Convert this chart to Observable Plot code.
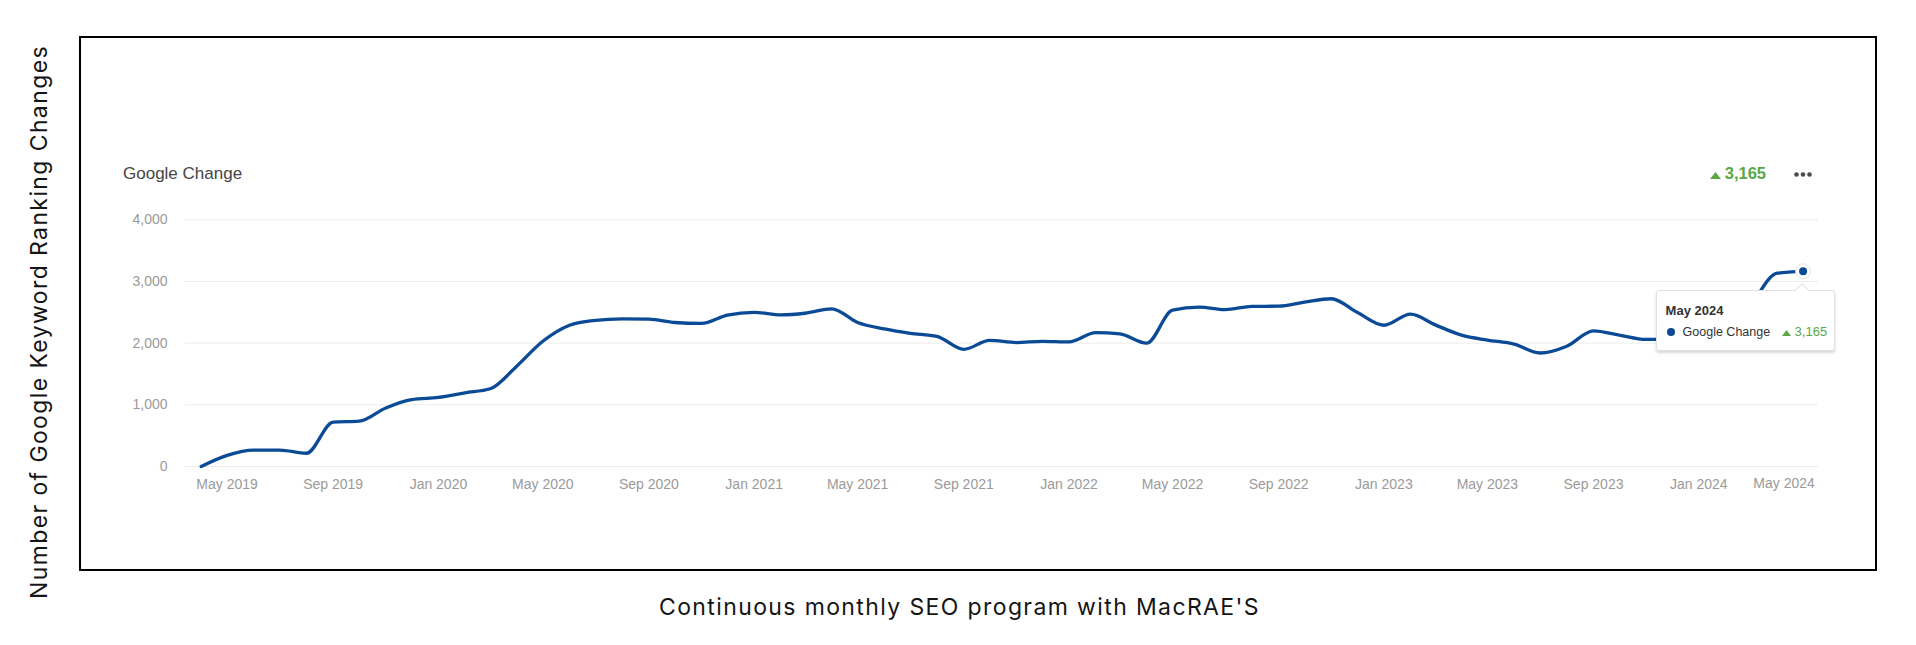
<!DOCTYPE html>
<html>
<head>
<meta charset="utf-8">
<script src="https://cdn.jsdelivr.net/npm/d3@7"></script>
<script src="https://cdn.jsdelivr.net/npm/@observablehq/plot@0.6"></script>
<style>
  html, body { margin: 0; padding: 0; background: #fff; }
  #page { position: relative; width: 1916px; height: 645px; overflow: hidden; font-family: "Liberation Sans", Arial, sans-serif; }
  #frame { position: absolute; left: 79px; top: 36px; width: 1794px; height: 531px; border: 2px solid #000; }
  #chart { position: absolute; left: 0; top: 0; }
  #chart svg { display: block; }
  .outer-text { position: absolute; white-space: nowrap; font-family: Inter, "Open Sans", sans-serif; font-size: 23px; line-height: 23px; color: #151515; }
  #ytitle { transform-origin: 0 0; }
  #head-title { position: absolute; left: 123px; top: 165px; font-size: 17px; line-height: 17px; color: #454545; white-space: nowrap; }
  #head-val { position: absolute; top: 165px; font-size: 16.5px; line-height: 17px; font-weight: bold; color: #58a846; white-space: nowrap; }
  #head-val svg, .tt-val svg { vertical-align: baseline; }
  #head-menu { position: absolute; top: 171.5px; height: 5px; }
  #tip { position: absolute; background: #fff; border: 1px solid #e2e2e2; border-radius: 3px; box-shadow: 0 2px 3px rgba(0,0,0,0.16); box-sizing: border-box; }
  #tip-arrow { position: absolute; width: 9px; height: 9px; background: #fff; border-left: 1px solid #e2e2e2; border-top: 1px solid #e2e2e2; transform: rotate(45deg); }
  .tt-date { position: absolute; left: 9px; top: 13px; font-size: 13px; line-height: 14px; font-weight: bold; color: #333; white-space: nowrap; }
  .tt-dot { position: absolute; left: 10px; top: 37px; width: 8px; height: 8px; border-radius: 50%; background: #0b4a96; }
  .tt-name { position: absolute; left: 26px; top: 34px; font-size: 12.5px; line-height: 14px; color: #333; white-space: nowrap; }
  .tt-val { position: absolute; left: 125px; top: 34px; font-size: 13px; line-height: 14px; color: #58a846; white-space: nowrap; }
</style>
</head>
<body>
<div id="page">
  <div id="frame"></div>
  <div id="chart"></div>
  <div id="ytitle" class="outer-text"></div>
  <div id="caption" class="outer-text"></div>
  <div id="head-title"></div>
  <div id="head-val"></div>
  <svg id="head-menu" width="18" height="5"></svg>
  <div id="tip"></div>
  <div id="tip-arrow"></div>
</div>
<script>
// ---------------- data ----------------
const seriesName = "Google Change";
const yAxisTitle = "Number of Google Keyword Ranking Changes";
const captionText = "Continuous monthly SEO program with MacRAE'S";

const months = [
  "2019-04","2019-05","2019-06","2019-07","2019-08","2019-09","2019-10","2019-11","2019-12",
  "2020-01","2020-02","2020-03","2020-04","2020-05","2020-06","2020-07","2020-08","2020-09","2020-10","2020-11","2020-12",
  "2021-01","2021-02","2021-03","2021-04","2021-05","2021-06","2021-07","2021-08","2021-09","2021-10","2021-11","2021-12",
  "2022-01","2022-02","2022-03","2022-04","2022-05","2022-06","2022-07","2022-08","2022-09","2022-10","2022-11","2022-12",
  "2023-01","2023-02","2023-03","2023-04","2023-05","2023-06","2023-07","2023-08","2023-09","2023-10","2023-11","2023-12",
  "2024-01","2024-02","2024-03","2024-04","2024-05"
];
const values = [
  0, 180, 265, 265, 215, 720, 735, 950, 1085,
  1120, 1195, 1260, 1630, 2030, 2290, 2370, 2395, 2390, 2335, 2320, 2455,
  2500, 2460, 2485, 2555, 2335, 2230, 2160, 2110, 1900, 2045, 2010, 2030,
  2020, 2170, 2150, 2000, 2535, 2585, 2545, 2595, 2600, 2665, 2720, 2500,
  2290, 2470, 2300, 2130, 2050, 1985, 1840, 1950, 2200, 2130, 2060, 2070,
  2100, 2200, 2620, 3135, 3165
];
const yTicks = [0, 1000, 2000, 3000, 4000];
const xTickLabels = ["May 2019","Sep 2019","Jan 2020","May 2020","Sep 2020","Jan 2021","May 2021","Sep 2021",
  "Jan 2022","May 2022","Sep 2022","Jan 2023","May 2023","Sep 2023","Jan 2024","May 2024"];

// ---------------- build ----------------
const parseM = d3.utcParse("%Y-%m");
const parseL = d3.utcParse("%b %Y");
const fmtDate = d3.utcFormat("%b %Y");
const fmtNum = d3.format(",");
const data = months.map((m, i) => ({date: parseM(m), value: values[i]}));
const tickDates = xTickLabels.map(parseL);
const mainTicks = tickDates.slice(0, -1);
const lastTick = tickDates.slice(-1);
const last = data[data.length - 1];
const lineColor = "#0b4a96";

const chart = Plot.plot({
  width: 1916,
  height: 645,
  marginLeft: 185,
  marginRight: 98,
  marginTop: 219,
  marginBottom: 179,
  style: {background: "transparent", color: "#9a9a9a", fontFamily: "'Liberation Sans', Arial, sans-serif", fontSize: "14px", overflow: "visible"},
  x: {type: "utc", domain: [data[0].date, last.date], range: [200.7, 1802.6], ticks: mainTicks, tickFormat: fmtDate, tickSize: 0, tickPadding: 13, label: null},
  y: {domain: [0, 4000], range: [466, 219.3], ticks: yTicks, tickFormat: fmtNum, tickSize: 0, tickPadding: 18, label: null},
  marks: [
    Plot.ruleY(yTicks, {stroke: "#ececec", strokeWidth: 1}),
    Plot.text(lastTick, {x: d => d, frameAnchor: "bottom", text: d => fmtDate(d), dy: 21, dx: -19, fill: "#9a9a9a", fontSize: 14}),
    Plot.line(data, {x: "date", y: "value", curve: "monotone-x", stroke: lineColor, strokeWidth: 3.3, strokeLinejoin: "round", strokeLinecap: "round"}),
    Plot.dot([last], {x: "date", y: "value", r: 7.5, fill: "#fff", stroke: "#e6e6e6", strokeWidth: 1}),
    Plot.dot([last], {x: "date", y: "value", r: 4, fill: lineColor, stroke: "none"})
  ]
});
document.getElementById("chart").appendChild(chart);

// header
const triSvg = (w, h, color) => `<svg width="${w}" height="${h}" style="margin-right:4px"><polygon points="0,${h} ${w/2},0 ${w},${h}" fill="${color}"/></svg>`;
document.getElementById("head-title").textContent = seriesName;
const headVal = document.getElementById("head-val");
headVal.innerHTML = triSvg(11, 7, "#58a846") + fmtNum(last.value);
headVal.style.left = (1766 - headVal.getBoundingClientRect().width) + "px";
const menu = document.getElementById("head-menu");
menu.style.left = "1794px";
menu.innerHTML = [2.5, 9, 15.5].map(cx => `<circle cx="${cx}" cy="2.5" r="2.3" fill="#4a4a4a"/>`).join("");

// tooltip positioned with the plot's scales
const px = chart.scale("x").apply(last.date);
const py = chart.scale("y").apply(last.value);
const tip = document.getElementById("tip");
tip.style.left = (px - 147) + "px";
tip.style.top = (py + 19.5) + "px";
tip.style.width = "179px";
tip.style.height = "61px";
tip.innerHTML = `<div class="tt-date">${fmtDate(last.date)}</div>
  <div class="tt-dot"></div>
  <div class="tt-name">${seriesName}</div>
  <div class="tt-val">${triSvg(9, 6, "#58a846")}${fmtNum(last.value)}</div>`;
const arrow = document.getElementById("tip-arrow");
arrow.style.left = (px - 5.5) + "px";
arrow.style.top = (py + 14.5) + "px";

// outer titles, fitted to the reference text extents
function fit(el, text, target) {
  el.textContent = text;
  const w = el.getBoundingClientRect().width;
  el.style.letterSpacing = ((target - w) / text.length) + "px";
}
const cap = document.getElementById("caption");
fit(cap, captionText, 601);
const cw = cap.getBoundingClientRect().width;
cap.style.left = (959.5 - cw / 2) + "px";
cap.style.top = "596px";

const yt = document.getElementById("ytitle");
fit(yt, yAxisTitle, 554);
const yw = yt.offsetWidth;
yt.style.transform = "rotate(-90deg)";
yt.style.left = "28px";
yt.style.top = (322 + yw / 2) + "px";
</script>
</body>
</html>
